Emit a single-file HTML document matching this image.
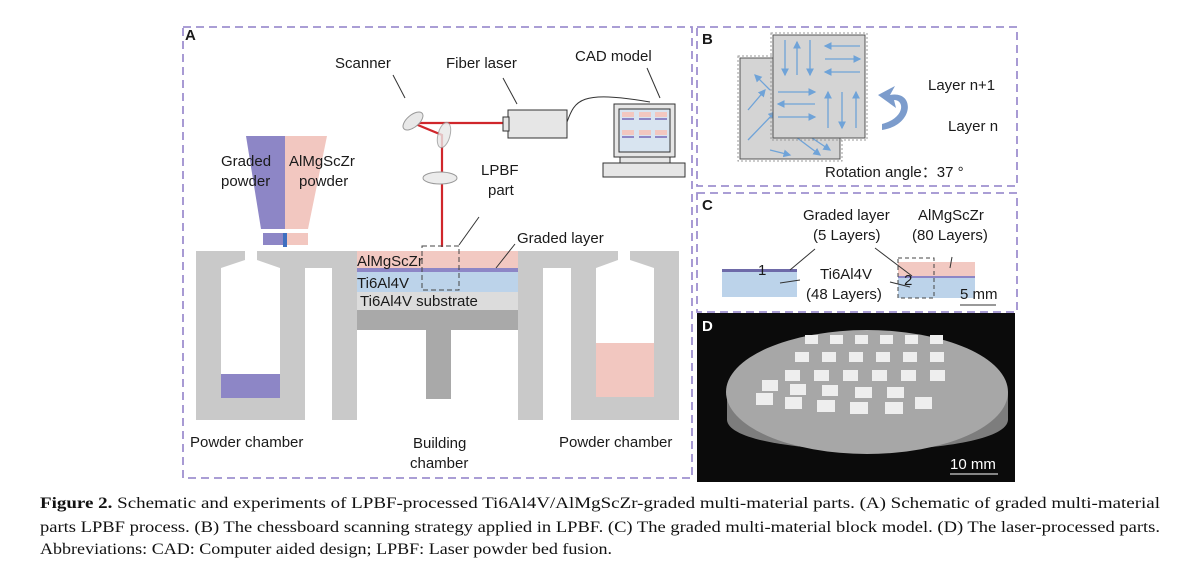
<!DOCTYPE html>
<html><head><meta charset="utf-8"><style>
body{margin:0;background:#fff}
svg{display:block}
.s{font-family:"Liberation Sans",sans-serif;font-size:15px;fill:#1a1a1a}
.c{font-family:"Liberation Serif",serif;font-size:15.5px;fill:#111}
</style></head><body>
<svg width="1200" height="573" viewBox="0 0 1200 573" xmlns="http://www.w3.org/2000/svg">
<defs>
<marker id="ah" markerWidth="6" markerHeight="6" refX="5" refY="3" orient="auto"><path d="M0,0 L6,3 L0,6 z" fill="#6fa3d8"/></marker>
</defs>
<g fill="none" stroke="#9f90cf" stroke-width="1.8" stroke-dasharray="8,5">
<rect x="183" y="27" width="509" height="451"/>
<rect x="697" y="27" width="320" height="159"/>
<rect x="697" y="193" width="320" height="119"/>
</g>
<text x="185" y="40" class="s" font-weight="bold" font-size="15">A</text>
<g fill="#c9c9c9">
<polygon points="196,251 245,251 245,260 221,268 221,398 280,398 280,268 257,260 257,251 357,251 357,420 332,420 332,268 305,268 305,420 196,420"/>
<polygon points="518,251 618,251 618,260 596,268 596,397 654,397 654,268 630,260 630,251 679,251 679,420 571,420 571,268 543,268 543,420 518,420"/>
</g>
<rect x="221" y="374" width="59" height="24" fill="#8d86c6"/>
<rect x="596" y="343" width="58" height="54" fill="#f2c7c0"/>
<rect x="357" y="251" width="161" height="17" fill="#f2c9c2"/>
<rect x="357" y="268" width="161" height="4" fill="#8d86c6"/>
<rect x="357" y="272" width="161" height="20" fill="#bcd3ea"/>
<rect x="357" y="292" width="161" height="18" fill="#dcdcdc"/>
<rect x="357" y="310" width="161" height="20" fill="#a9a9a9"/>
<rect x="426" y="330" width="25" height="69" fill="#a9a9a9"/>
<polygon points="246,136 285,136 285,229 261,229" fill="#8d86c6"/>
<polygon points="285,136 327,136 308,229 285,229" fill="#f2c7c0"/>
<rect x="263" y="233" width="22" height="12" fill="#8d86c6"/>
<rect x="285" y="233" width="23" height="12" fill="#f2c7c0"/>
<rect x="283" y="233" width="4" height="14" fill="#3f6fc0"/>
<polyline points="503,123 413,123 442,135 442,247" fill="none" stroke="#d0262b" stroke-width="2.2"/>
<ellipse cx="413" cy="121" rx="6" ry="12" transform="rotate(50 413 121)" fill="#e8e8e8" stroke="#999"/>
<ellipse cx="444" cy="135" rx="6" ry="13" transform="rotate(15 444 135)" fill="#e8e8e8" stroke="#999" opacity="0.8"/>
<ellipse cx="440" cy="178" rx="17" ry="6" fill="#ececec" stroke="#999"/>
<rect x="508" y="110" width="59" height="28" fill="#e6e6e6" stroke="#333"/>
<rect x="503" y="117" width="6" height="14" fill="#e6e6e6" stroke="#333"/>
<path d="M567,122 C575,100 580,90 650,102" fill="none" stroke="#333"/>
<rect x="614" y="104" width="61" height="53" fill="#e6e6e6" stroke="#333"/>
<rect x="619" y="109" width="51" height="43" fill="#d8e4f0" stroke="#333"/>
<g fill="#f2c7c0"><rect x="622" y="112" width="12" height="5"/><rect x="639" y="112" width="12" height="5"/><rect x="655" y="112" width="12" height="5"/><rect x="622" y="130" width="12" height="5"/><rect x="639" y="130" width="12" height="5"/><rect x="655" y="130" width="12" height="5"/></g>
<g fill="#8d86c6"><rect x="622" y="118" width="12" height="2"/><rect x="639" y="118" width="12" height="2"/><rect x="655" y="118" width="12" height="2"/><rect x="622" y="136" width="12" height="2"/><rect x="639" y="136" width="12" height="2"/><rect x="655" y="136" width="12" height="2"/></g>
<rect x="620" y="157" width="50" height="6" fill="#e6e6e6" stroke="#333"/>
<rect x="603" y="163" width="82" height="14" fill="#e6e6e6" stroke="#333"/>
<g stroke="#333" stroke-width="1" fill="none">
<line x1="393" y1="75" x2="405" y2="98"/>
<line x1="503" y1="78" x2="517" y2="104"/>
<line x1="647" y1="68" x2="660" y2="98"/>
<line x1="479" y1="217" x2="459" y2="245"/>
<line x1="515" y1="244" x2="496" y2="268"/>
</g>
<rect x="422" y="246" width="37" height="44" fill="none" stroke="#444" stroke-dasharray="5,3"/>
<text class="s" x="335" y="68">Scanner</text>
<text class="s" x="446" y="68">Fiber laser</text>
<text class="s" x="575" y="61">CAD model</text>
<text class="s" x="221" y="166">Graded</text>
<text class="s" x="221" y="186">powder</text>
<text class="s" x="289" y="166">AlMgScZr</text>
<text class="s" x="299" y="186">powder</text>
<text class="s" x="481" y="175">LPBF</text>
<text class="s" x="488" y="195">part</text>
<text class="s" x="517" y="243">Graded layer</text>
<text class="s" x="357" y="266">AlMgScZr</text>
<text class="s" x="357" y="288">Ti6Al4V</text>
<text class="s" x="360" y="306">Ti6Al4V substrate</text>
<text class="s" x="190" y="447">Powder chamber</text>
<text class="s" x="413" y="448">Building</text>
<text class="s" x="410" y="468">chamber</text>
<text class="s" x="559" y="447">Powder chamber</text>
<text class="s" x="702" y="44" font-weight="bold">B</text>
<rect x="738" y="56" width="104" height="105" fill="none" stroke="#999" stroke-dasharray="2,2"/>
<rect x="740" y="58" width="100" height="101" fill="#d4d4d4" stroke="#555"/>
<g stroke="#6fa3d8" stroke-width="1.3" marker-end="url(#ah)">
<line x1="770" y1="90" x2="755" y2="75"/>
<line x1="748" y1="110" x2="765" y2="90"/>
<line x1="748" y1="140" x2="775" y2="112"/>
<line x1="780" y1="125" x2="820" y2="155"/>
<line x1="800" y1="130" x2="830" y2="150"/>
<line x1="770" y1="150" x2="790" y2="155"/>
</g>
<rect x="771" y="33" width="96" height="107" fill="none" stroke="#999" stroke-dasharray="2,2"/>
<rect x="773" y="35" width="92" height="103" fill="#d4d4d4" stroke="#555"/>
<g stroke="#6fa3d8" stroke-width="1.3" marker-end="url(#ah)">
<line x1="785" y1="40" x2="785" y2="75"/>
<line x1="797" y1="75" x2="797" y2="42"/>
<line x1="810" y1="40" x2="810" y2="75"/>
<line x1="860" y1="46" x2="825" y2="46"/>
<line x1="825" y1="59" x2="860" y2="59"/>
<line x1="860" y1="72" x2="825" y2="72"/>
<line x1="778" y1="92" x2="815" y2="92"/>
<line x1="815" y1="104" x2="778" y2="104"/>
<line x1="778" y1="117" x2="815" y2="117"/>
<line x1="828" y1="128" x2="828" y2="92"/>
<line x1="842" y1="92" x2="842" y2="128"/>
<line x1="856" y1="128" x2="856" y2="92"/>
</g>
<path d="M890,95 C915,90 915,125 882,130 L882,124 C905,118 905,100 894,100 L896,108 L878,95 L895,86 Z" fill="#7c9ccc"/>
<text class="s" x="928" y="90">Layer n+1</text>
<text class="s" x="948" y="131">Layer n</text>
<text class="s" x="825" y="177">Rotation angle：37 °</text>
<text class="s" x="702" y="210" font-weight="bold">C</text>
<polygon points="722,272 797,272 797,297 722,297" fill="#bcd3ea"/>
<polygon points="722,272 797,272 797,269 722,269" fill="#6e6aa8"/>
<polygon points="898,262 975,262 975,278 898,278" fill="#f2c9c2"/>
<polygon points="898,278 975,278 975,298 898,298" fill="#bcd3ea"/>
<line x1="898" y1="277" x2="975" y2="277" stroke="#8d86c6" stroke-width="2"/>
<rect x="898" y="258" width="36" height="40" fill="none" stroke="#444" stroke-dasharray="4,3"/>
<g stroke="#333">
<line x1="815" y1="249" x2="790" y2="270"/>
<line x1="875" y1="248" x2="912" y2="276"/>
<line x1="952" y1="257" x2="950" y2="268"/>
<line x1="780" y1="283" x2="800" y2="280"/>
<line x1="890" y1="282" x2="910" y2="287"/>
<line x1="960" y1="305" x2="996" y2="305"/>
</g>
<text class="s" x="758" y="275">1</text>
<text class="s" x="904" y="285">2</text>
<text class="s" x="803" y="220">Graded layer</text>
<text class="s" x="813" y="240">(5 Layers)</text>
<text class="s" x="918" y="220">AlMgScZr</text>
<text class="s" x="912" y="240">(80 Layers)</text>
<text class="s" x="820" y="279">Ti6Al4V</text>
<text class="s" x="806" y="299">(48 Layers)</text>
<text class="s" x="960" y="299">5 mm</text>
<rect x="697" y="313" width="318" height="169" fill="#0b0b0b"/>
<path d="M727,392 L727,420 C730,460 1005,460 1008,420 L1008,392 Z" fill="#7d7d7d"/>
<ellipse cx="867" cy="392" rx="141" ry="62" fill="#a7a7a7"/>
<g fill="#eee">
<rect x="805" y="335" width="13" height="9"/><rect x="830" y="335" width="13" height="9"/><rect x="855" y="335" width="13" height="9"/><rect x="880" y="335" width="13" height="9"/><rect x="905" y="335" width="13" height="9"/><rect x="930" y="335" width="13" height="9"/>
<rect x="795" y="352" width="14" height="10"/><rect x="822" y="352" width="14" height="10"/><rect x="849" y="352" width="14" height="10"/><rect x="876" y="352" width="14" height="10"/><rect x="903" y="352" width="14" height="10"/><rect x="930" y="352" width="14" height="10"/>
<rect x="785" y="370" width="15" height="11"/><rect x="814" y="370" width="15" height="11"/><rect x="843" y="370" width="15" height="11"/><rect x="872" y="370" width="15" height="11"/><rect x="901" y="370" width="15" height="11"/><rect x="930" y="370" width="15" height="11"/>
<rect x="762" y="380" width="16" height="11"/><rect x="790" y="384" width="16" height="11"/><rect x="822" y="385" width="16" height="11"/><rect x="855" y="387" width="17" height="11"/><rect x="887" y="387" width="17" height="11"/>
<rect x="756" y="393" width="17" height="12"/><rect x="785" y="397" width="17" height="12"/><rect x="817" y="400" width="18" height="12"/><rect x="850" y="402" width="18" height="12"/><rect x="885" y="402" width="18" height="12"/><rect x="915" y="397" width="17" height="12"/>
</g>
<text class="s" x="950" y="469" style="fill:#fff">10 mm</text>
<line x1="950" y1="474" x2="998" y2="474" stroke="#fff"/>
<text class="s" x="702" y="331" font-weight="bold" style="fill:#fff">D</text>
<text class="c" x="40" y="508" textLength="1120" lengthAdjust="spacingAndGlyphs"><tspan font-weight="bold">Figure 2.</tspan> Schematic and experiments of LPBF-processed Ti6Al4V/AlMgScZr-graded multi-material parts. (A) Schematic of graded multi-material</text>
<text class="c" x="40" y="532" textLength="1120" lengthAdjust="spacingAndGlyphs">parts LPBF process. (B) The chessboard scanning strategy applied in LPBF. (C) The graded multi-material block model. (D) The laser-processed parts.</text>
<text class="c" x="40" y="554" textLength="572" lengthAdjust="spacingAndGlyphs">Abbreviations: CAD: Computer aided design; LPBF: Laser powder bed fusion.</text>
</svg>
</body></html>
